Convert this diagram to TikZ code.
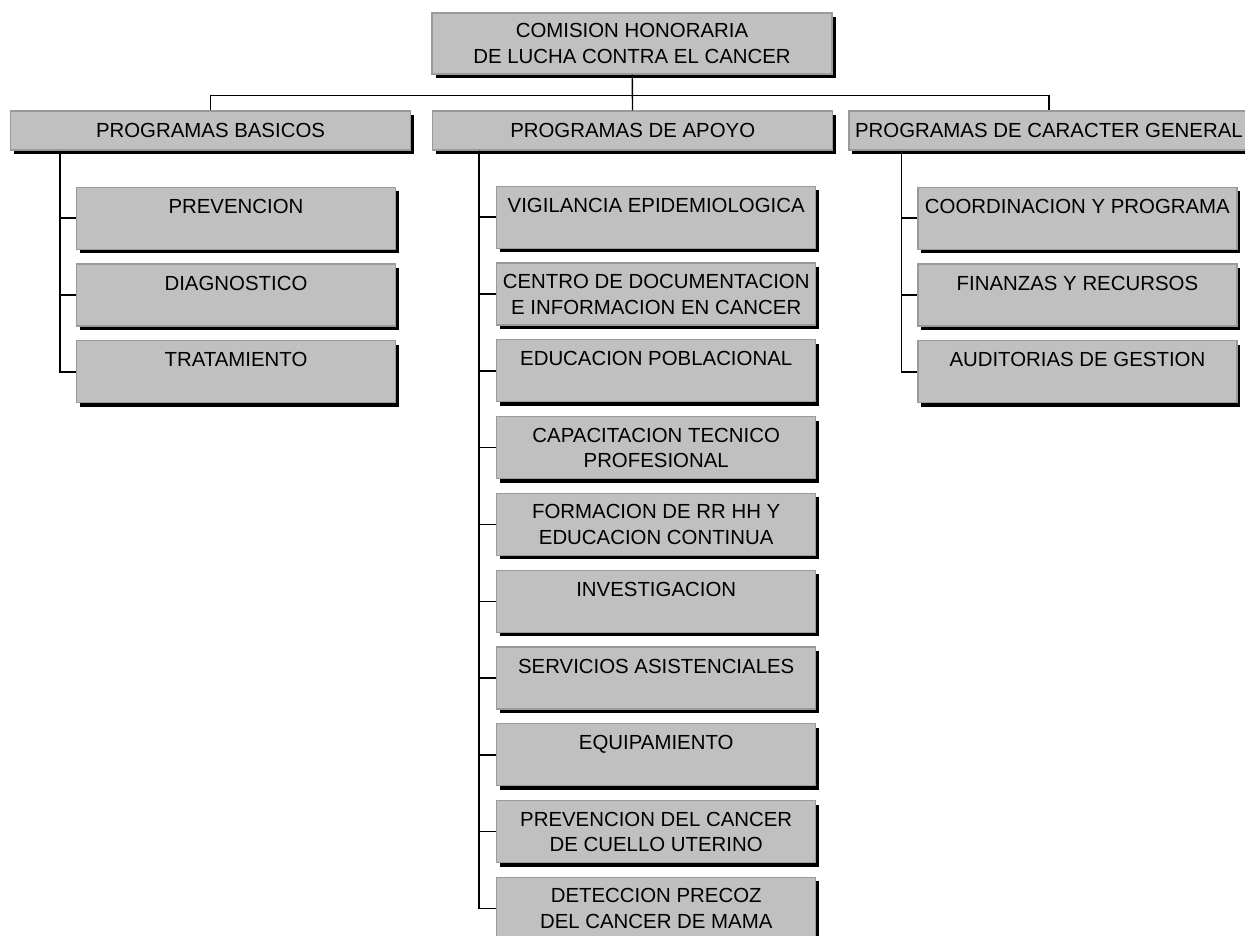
\documentclass[tikz,border=0pt]{standalone}
\usepackage{fontspec}
\setmainfont{Liberation Sans}
\usetikzlibrary{positioning,shadows}
\definecolor{ChartFill}{HTML}{C0C0C0}
\definecolor{ChartEdge}{HTML}{9A9A9A}

\begin{document}
\begin{tikzpicture}[x=1pt,y=-1pt,node distance=13.6pt,
  font=\fontsize{20.4}{25.5}\selectfont,
  every node/.style={inner sep=0pt},
  box/.style={draw=ChartEdge,fill=ChartFill,line width=1.2pt,
    drop shadow={shadow xshift=3.5pt,shadow yshift=-4pt,fill=black,opacity=1}},
  headbox/.style={box,minimum width=400pt,minimum height=39pt},
  unitbox/.style={box,minimum width=319pt,align=center,
    text height=26pt,text depth=36pt},
  twoline/.style={text height=51pt,text depth=11pt},
  link/.style={line width=1.4pt}]
  \useasboundingbox (0,0) rectangle (1245,936);

  % commission
  \node[box,minimum width=400pt,minimum height=61pt,align=center] (chlcc)
       at (632,43.5) {COMISION HONORARIA\\DE LUCHA CONTRA EL CANCER};

  % the three programme groups
  \node[headbox] (basicos) at (210.5,130.5) {PROGRAMAS BASICOS};
  \node[headbox,right=21pt of basicos] (apoyo) {PROGRAMAS DE APOYO};
  \node[headbox,right=15pt of apoyo] (general) {PROGRAMAS DE CARACTER GENERAL};

  % basic programmes
  \node[unitbox,anchor=north west] (prevencion)
       at ([xshift=66pt,yshift=-36pt]basicos.south west) {PREVENCION};
  \node[unitbox,below=of prevencion] (diagnostico) {DIAGNOSTICO};
  \node[unitbox,below=of diagnostico] (tratamiento) {TRATAMIENTO};

  % support programmes
  \node[unitbox,anchor=north west] (vigilancia)
       at ([xshift=64pt,yshift=-35pt]apoyo.south west) {VIGILANCIA EPIDEMIOLOGICA};
  \node[unitbox,twoline,below=of vigilancia] (centro)
       {CENTRO DE DOCUMENTACION\\E INFORMACION EN CANCER};
  \node[unitbox,below=of centro] (educacion) {EDUCACION POBLACIONAL};
  \node[unitbox,twoline,below=of educacion] (capacitacion)
       {CAPACITACION TECNICO\\PROFESIONAL};
  \node[unitbox,twoline,below=of capacitacion] (formacion)
       {FORMACION DE RR HH Y\\EDUCACION CONTINUA};
  \node[unitbox,below=of formacion] (investigacion) {INVESTIGACION};
  \node[unitbox,below=of investigacion] (servicios) {SERVICIOS ASISTENCIALES};
  \node[unitbox,below=of servicios] (equipamiento) {EQUIPAMIENTO};
  \node[unitbox,twoline,below=of equipamiento] (cuello)
       {PREVENCION DEL CANCER\\DE CUELLO UTERINO};
  \node[unitbox,twoline,below=of cuello] (mama)
       {DETECCION PRECOZ\\DEL CANCER DE MAMA};

  % general programmes
  \node[unitbox,anchor=north west] (coordinacion)
       at ([xshift=69pt,yshift=-36pt]general.south west) {COORDINACION Y PROGRAMA};
  \node[unitbox,below=of coordinacion] (finanzas) {FINANZAS Y RECURSOS};
  \node[unitbox,below=of finanzas] (auditorias) {AUDITORIAS DE GESTION};

  % connectors
  \draw[link] (chlcc) -- (apoyo);
  \draw[link] (basicos.north) |- ([yshift=-21pt]chlcc.south) -| (general.north);
  \foreach \n in {prevencion,diagnostico,tratamiento}
    \draw[link] ([xshift=50pt]basicos.south west) |- (\n.west);
  \foreach \n in {vigilancia,centro,educacion,capacitacion,formacion,
                  investigacion,servicios,equipamiento,cuello,mama}
    \draw[link] ([xshift=47pt]apoyo.south west) |- (\n.west);
  \foreach \n in {coordinacion,finanzas,auditorias}
    \draw[link] ([xshift=53pt]general.south west) |- (\n.west);
\end{tikzpicture}
\end{document}
